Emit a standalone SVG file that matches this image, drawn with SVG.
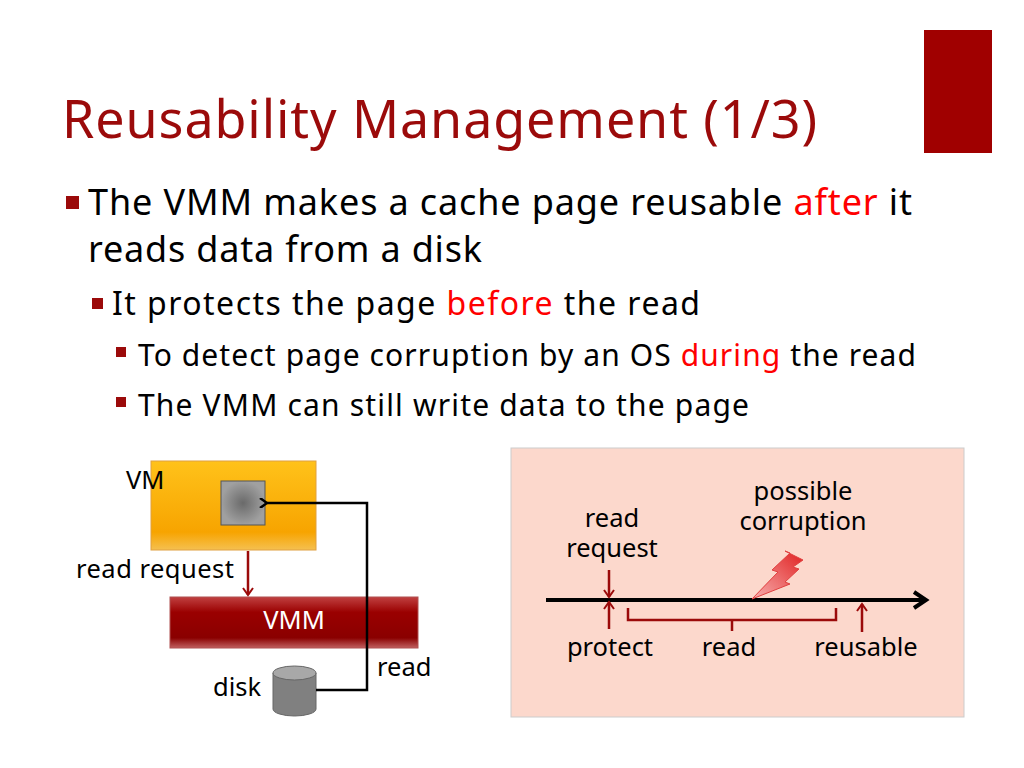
<svg xmlns="http://www.w3.org/2000/svg" width="1024" height="768" viewBox="0 0 1024 768">
<defs>
<style>
text{font-family:"Noto Sans","DejaVu Sans",sans-serif;fill:#000}
.b{font-size:36px}.s{font-size:32px}.t{font-size:30px}.l{font-size:25.5px}
.r{fill:#ff0000}
.dr{stroke:#9b0a0a;stroke-width:2.5;fill:none}
</style>
<linearGradient id="vm" x1="0" y1="0" x2="0" y2="1"><stop offset="0" stop-color="#ffc21a"/><stop offset="0.8" stop-color="#f7a400"/><stop offset="1" stop-color="#f5c050"/></linearGradient>
<linearGradient id="vmm" x1="0" y1="0" x2="0" y2="1"><stop offset="0" stop-color="#c04040"/><stop offset="0.3" stop-color="#9a0000"/><stop offset="0.8" stop-color="#8a0000"/><stop offset="1" stop-color="#c06060"/></linearGradient>
<radialGradient id="sq"><stop offset="0" stop-color="#6a6a6a"/><stop offset="1" stop-color="#a0a0a0"/></radialGradient>
<linearGradient id="bolt" x1="0" y1="1" x2="1" y2="0"><stop offset="0" stop-color="#f8b0b0"/><stop offset="1" stop-color="#e02020"/></linearGradient>
<marker id="ab" markerWidth="10" markerHeight="10" refX="2" refY="5" orient="auto" markerUnits="userSpaceOnUse"><path d="M9,0 L2,5 L9,10" fill="none" stroke="#000" stroke-width="2.5"/></marker>
<marker id="ar" markerWidth="12" markerHeight="12" refX="9" refY="6" orient="auto" markerUnits="userSpaceOnUse"><path d="M2,1 L9,6 L2,11" fill="none" stroke="#9b0a0a" stroke-width="2"/></marker>
<marker id="ak" markerWidth="20" markerHeight="20" refX="16" refY="10" orient="auto" markerUnits="userSpaceOnUse"><path d="M4,2 L16,10 L4,18" fill="none" stroke="#000" stroke-width="4"/></marker>
</defs>
<rect width="1024" height="768" fill="#fff"/>
<rect x="924" y="30" width="68" height="123" fill="#a00000"/>
<text x="62" y="138" textLength="755" style="font-size:52px;fill:#9b0a0a">Reusability Management (1/3)</text>
<rect x="66" y="196" width="13" height="13" fill="#9b0a0a"/>
<text class="b" x="88" y="215" textLength="824">The VMM makes a cache page reusable <tspan class="r">after</tspan> it</text>
<text class="b" x="88" y="262" textLength="394">reads data from a disk</text>
<rect x="92" y="298" width="11" height="11" fill="#9b0a0a"/>
<text class="s" x="112" y="315" textLength="588">It protects the page <tspan class="r">before</tspan> the read</text>
<rect x="116" y="347" width="10" height="10" fill="#9b0a0a"/>
<text class="t" x="138" y="366" textLength="778">To detect page corruption by an OS <tspan class="r">during</tspan> the read</text>
<rect x="116" y="397" width="10" height="10" fill="#9b0a0a"/>
<text class="t" x="138" y="416" textLength="611">The VMM can still write data to the page</text>

<g id="vm-node"><rect x="151" y="461" width="165" height="89" fill="url(#vm)" stroke="#e0a040"/><text class="l" x="126" y="489">VM</text></g>
<g id="page-node"><rect x="221" y="481" width="44" height="44" fill="url(#sq)" stroke="#555"/></g>
<g id="vmm-node"><rect x="170" y="597" width="248" height="51" fill="url(#vmm)" stroke="#b05050"/><text class="l" x="294" y="629" text-anchor="middle" style="fill:#fff">VMM</text></g>
<g id="disk-node"><path d="M273,673 V709 A21.5,7 0 0 0 316,709 V673" fill="#808080" stroke="#666"/><ellipse cx="294.5" cy="673" rx="21.5" ry="7" fill="#a8a8a8" stroke="#666"/><text class="l" x="213" y="696">disk</text></g>
<g id="connectors">
<path d="M316,690 H367 V503 H267" fill="none" stroke="#000" stroke-width="2.5" marker-end="url(#ab)"/>
<line x1="248" y1="551" x2="248" y2="595" class="dr" marker-end="url(#ar)"/>
</g>
<text class="l" x="76" y="578" textLength="158">read request</text>
<text class="l" x="377" y="676">read</text>

<g id="timeline">
<rect x="511" y="448" width="453" height="269" fill="#fcd8cc" stroke="#ccc"/>
<line x1="546" y1="600" x2="926" y2="600" stroke="#000" stroke-width="4" marker-end="url(#ak)"/>
<line x1="609" y1="570" x2="609" y2="597" class="dr" marker-end="url(#ar)"/>
<line x1="609" y1="629" x2="609" y2="602" class="dr" marker-end="url(#ar)"/>
<line x1="862" y1="632" x2="862" y2="604" class="dr" marker-end="url(#ar)"/>
<path d="M628,608 V620 H836 V608 M732,620 V631" class="dr"/>
<path d="M752,599 L778,572 L772,570 L790,553 L785,551 L803,560 L793,567 L799,569 L785,582 L790,584 Z" fill="url(#bolt)" stroke="#e04040"/>
<text class="l" x="612" y="527" text-anchor="middle">read</text>
<text class="l" x="612" y="557" text-anchor="middle">request</text>
<text class="l" x="803" y="500" text-anchor="middle">possible</text>
<text class="l" x="803" y="530" text-anchor="middle">corruption</text>
<text class="l" x="610" y="656" text-anchor="middle">protect</text>
<text class="l" x="729" y="656" text-anchor="middle">read</text>
<text class="l" x="866" y="656" text-anchor="middle">reusable</text>
</g>
</svg>
